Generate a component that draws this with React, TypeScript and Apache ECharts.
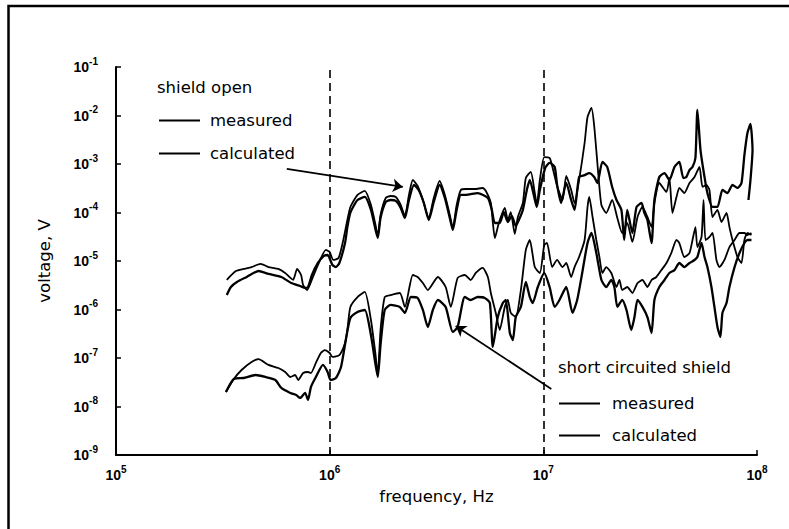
import React, { useEffect, useRef } from "react";
import * as echarts from "echarts";

// [frequency Hz, voltage V]
const openMeasured = [
  [3.30e5,4.1e-6],[3.64e5,6.2e-6],[3.96e5,6.85e-6],[4.31e5,7.5e-6],[4.75e5,8.7e-6],[5.17e5,7.5e-6],[5.75e5,6.85e-6],[6.19e5,5.66e-6],[6.74e5,4.1e-6],[7.04e5,6.85e-6],[7.35e5,5.15e-6],[7.51e5,3.2e-6],[7.84e5,2.52e-6],[8.35e5,4.68e-6],[8.81e5,8.27e-6],[9.60e5,1.69e-5],[1.00e6,1.53e-5],[1.04e6,1.05e-5],[1.10e6,1.15e-5],[1.15e6,2.35e-5],[1.21e6,7.0e-5],[1.25e6,1.3e-4],[1.35e6,2.3e-4],[1.46e6,2.78e-4],[1.56e6,1.43e-4],[1.64e6,5.5e-5],[1.68e6,3.28e-5],[1.73e6,8.9e-5],[1.83e6,1.99e-4],[1.93e6,2.19e-4],[2.04e6,2.09e-4],[2.15e6,1.43e-4],[2.25e6,8.5e-5],[2.35e6,2.3e-4],[2.45e6,4.68e-4],[2.58e6,3.52e-4],[2.73e6,1.81e-4],[2.91e6,7.7e-5],[3.07e6,1.99e-4],[3.27e6,4.46e-4],[3.46e6,2.3e-4],[3.65e6,8.9e-5],[3.77e6,4.8e-5],[3.93e6,1.43e-4],[4.11e6,2.91e-4],[4.33e6,3.05e-4],[4.78e6,3.05e-4],[5.20e6,3.2e-4],[5.38e6,2.78e-4],[5.68e6,1.57e-4],[5.80e6,6.37e-5],[5.93e6,2.98e-5],[6.19e6,6.08e-5],[6.60e6,1.24e-4],[6.82e6,7.0e-5],[7.04e6,1.02e-4],[7.35e6,3.6e-5],[7.60e6,8.08e-5],[8.02e6,1.57e-4],[8.28e6,5.15e-4],[8.73e6,6.85e-4],[9.12e6,2.52e-4],[9.32e6,1.43e-4],[9.63e6,4.68e-4],[1.01e7,1.39e-3],[1.07e7,1.33e-3],[1.10e7,9.1e-4],[1.16e7,3.52e-4],[1.23e7,1.81e-4],[1.28e7,5.66e-4],[1.35e7,2.91e-4],[1.40e7,1.57e-4],[1.47e7,4.68e-4],[1.56e7,2.71e-3],[1.61e7,9.3e-3],[1.68e7,1.43e-2],[1.73e7,6.08e-3],[1.81e7,5.9e-4],[1.87e7,1.43e-4],[1.97e7,9.77e-5],[2.10e7,1.81e-4],[2.22e7,7.7e-5],[2.34e7,3.78e-5],[2.47e7,6.08e-5],[2.61e7,2.47e-5],[2.76e7,8.08e-5],[2.91e7,1.3e-4],[3.07e7,8.08e-5],[3.21e7,5.0e-5],[3.31e7,1.57e-4],[3.49e7,4.06e-4],[3.77e7,2.65e-4],[3.89e7,5.15e-4],[4.02e7,9.77e-5],[4.20e7,2.09e-4],[4.33e7,3.2e-4],[4.57e7,2.52e-4],[4.83e7,4.06e-4],[5.10e7,5.4e-4],[5.38e7,8.7e-4],[5.56e7,3.36e-4],[5.80e7,3.69e-4],[5.99e7,2.91e-4],[6.19e7,8.08e-5],[6.53e7,1.13e-4],[6.82e7,6.37e-5],[7.20e7,9.77e-5],[7.43e7,5.0e-5],[7.68e7,2.71e-5],[8.10e7,1.21e-5],[8.46e7,9.1e-6],[8.73e7,2.71e-5],[9.02e7,3.78e-5],[9.42e7,3.44e-5]
];

const openCalculated = [
  [3.30e5,1.99e-6],[3.45e5,2.91e-6],[3.68e5,3.69e-6],[4.09e5,4.68e-6],[4.65e5,6.22e-6],[5.17e5,5.4e-6],[5.94e5,4.68e-6],[6.61e5,3.52e-6],[7.27e5,3.05e-6],[7.67e5,2.78e-6],[7.92e5,2.91e-6],[8.26e5,5.15e-6],[8.81e5,9.1e-6],[9.40e5,1.27e-5],[9.78e5,1.33e-5],[1.03e6,8.27e-6],[1.07e6,7.5e-6],[1.11e6,9.1e-6],[1.18e6,2.35e-5],[1.21e6,5.0e-5],[1.25e6,1.0e-4],[1.35e6,1.81e-4],[1.46e6,2.09e-4],[1.56e6,1.13e-4],[1.64e6,4.36e-5],[1.68e6,2.98e-5],[1.73e6,7.7e-5],[1.83e6,1.65e-4],[1.93e6,1.81e-4],[2.04e6,1.73e-4],[2.15e6,1.24e-4],[2.25e6,7.7e-5],[2.35e6,1.81e-4],[2.48e6,3.69e-4],[2.61e6,2.91e-4],[2.76e6,1.57e-4],[2.91e6,7.0e-5],[3.07e6,1.65e-4],[3.27e6,3.69e-4],[3.46e6,1.99e-4],[3.65e6,7.7e-5],[3.77e6,4.36e-5],[3.93e6,1.13e-4],[4.11e6,2.3e-4],[4.33e6,2.3e-4],[4.93e6,2.52e-4],[5.50e6,1.99e-4],[5.74e6,1.13e-4],[5.93e6,6.08e-5],[6.25e6,6.08e-5],[6.53e6,1.02e-4],[6.82e6,6.37e-5],[7.12e6,8.5e-5],[7.43e6,5.27e-5],[7.68e6,7.0e-5],[8.02e6,1.13e-4],[8.37e6,2.91e-4],[8.64e6,4.68e-4],[9.02e6,2.3e-4],[9.32e6,1.3e-4],[9.63e6,2.91e-4],[1.02e7,8.27e-4],[1.07e7,1.05e-3],[1.13e7,8.7e-4],[1.16e7,3.69e-4],[1.21e7,1.57e-4],[1.28e7,4.06e-4],[1.35e7,1.81e-4],[1.40e7,1.13e-4],[1.47e7,5.4e-4],[1.56e7,5.9e-4],[1.64e7,6.5e-4],[1.73e7,5.4e-4],[1.79e7,4.06e-4],[1.89e7,1.1e-3],[1.99e7,8.7e-4],[2.10e7,3.36e-4],[2.20e7,1.81e-4],[2.32e7,1.13e-4],[2.39e7,2.71e-5],[2.47e7,1.13e-4],[2.61e7,3.78e-5],[2.73e7,1.3e-4],[2.88e7,1.57e-4],[2.97e7,9.77e-5],[3.07e7,7.0e-5],[3.21e7,2.35e-5],[3.31e7,1.81e-4],[3.49e7,5.4e-4],[3.69e7,6.5e-4],[3.89e7,4.68e-4],[4.11e7,8.7e-4],[4.33e7,1.1e-3],[4.52e7,5.15e-4],[4.67e7,5.4e-4],[4.83e7,7.5e-4],[4.99e7,8.7e-4],[5.15e7,1.33e-3],[5.26e7,1.3e-2],[5.44e7,1.94e-3],[5.68e7,5.4e-4],[5.86e7,2.52e-4],[6.19e7,1.3e-4],[6.53e7,1.3e-4],[6.89e7,2.91e-4],[7.27e7,2.52e-4],[7.68e7,3.69e-4],[8.10e7,3.2e-4],[8.46e7,4.06e-4],[8.73e7,1.53e-3],[9.02e7,4.36e-3],[9.32e7,6.68e-3],[9.53e7,1.94e-3],[9.32e7,4.68e-4],[9.12e7,1.81e-4]
];

const shortMeasured = [
  [3.27e5,1.99e-8],[3.56e5,3.69e-8],[3.87e5,5.66e-8],[4.31e5,8.27e-8],[4.65e5,9.5e-8],[5.17e5,7.2e-8],[5.75e5,6.22e-8],[6.19e5,5.15e-8],[6.54e5,4.06e-8],[6.89e5,4.46e-8],[7.12e5,3.52e-8],[7.51e5,4.9e-8],[7.92e5,5.15e-8],[8.17e5,4.9e-8],[8.62e5,7.9e-8],[9.09e5,1.27e-7],[9.50e5,1.46e-7],[1.00e6,1.27e-7],[1.03e6,1.05e-7],[1.11e6,1.15e-7],[1.18e6,2.04e-7],[1.21e6,3.78e-7],[1.25e6,1.13e-6],[1.35e6,1.81e-6],[1.46e6,2.3e-6],[1.56e6,6.08e-7],[1.64e6,1.15e-7],[1.68e6,4.46e-8],[1.73e6,3.78e-7],[1.81e6,1.81e-6],[1.93e6,1.99e-6],[2.13e6,2.19e-6],[2.25e6,1.13e-6],[2.45e6,5.15e-6],[2.58e6,4.68e-6],[2.73e6,3.52e-6],[2.88e6,2.52e-6],[3.21e6,4.68e-6],[3.49e6,2.91e-6],[3.69e6,1.13e-6],[3.97e6,4.46e-6],[4.29e6,5.15e-6],[4.57e6,4.06e-6],[4.83e6,5.66e-6],[5.20e6,7.2e-6],[5.50e6,4.68e-6],[5.68e6,2.19e-6],[5.99e6,8.5e-7],[6.25e6,3.78e-7],[6.60e6,1.13e-6],[6.82e6,1.57e-6],[7.04e6,8.5e-7],[7.43e6,7.0e-7],[7.85e6,2.52e-6],[8.28e6,1.69e-5],[8.64e6,2.71e-5],[9.12e6,7.5e-6],[9.63e6,5.66e-6],[1.01e7,2.14e-5],[1.04e7,2.35e-5],[1.10e7,7.5e-6],[1.16e7,1.05e-5],[1.23e7,7.5e-6],[1.28e7,9.1e-6],[1.35e7,4.68e-6],[1.40e7,7.5e-6],[1.47e7,1.21e-5],[1.56e7,2.71e-5],[1.61e7,1.3e-4],[1.64e7,2.09e-4],[1.70e7,8.08e-5],[1.77e7,2.71e-5],[1.83e7,1.21e-5],[1.89e7,5.66e-6],[1.97e7,7.5e-6],[2.08e7,5.66e-6],[2.20e7,2.91e-6],[2.27e7,4.06e-6],[2.34e7,2.52e-6],[2.47e7,2.91e-6],[2.61e7,2.19e-6],[2.76e7,3.52e-6],[2.91e7,4.06e-6],[3.07e7,2.91e-6],[3.21e7,4.06e-6],[3.38e7,4.68e-6],[3.57e7,6.5e-6],[3.77e7,9.1e-6],[3.97e7,1.46e-5],[4.20e7,2.71e-5],[4.33e7,2.35e-5],[4.57e7,1.21e-5],[4.83e7,1.46e-5],[4.99e7,2.71e-5],[5.15e7,5.0e-5],[5.26e7,1.94e-5],[5.50e7,3.13e-5],[5.62e7,1.81e-4],[5.74e7,2.71e-5],[5.99e7,3.13e-5],[6.19e7,3.78e-5],[6.46e7,1.05e-5],[6.67e7,7.5e-6],[7.04e7,1.05e-5],[7.43e7,1.94e-5],[7.85e7,2.71e-5],[8.28e7,3.78e-5],[8.73e7,3.78e-5],[9.02e7,3.44e-5],[9.42e7,3.78e-5]
];

const shortCalculated = [
  [3.27e5,1.99e-8],[3.56e5,3.69e-8],[3.96e5,3.87e-8],[4.50e5,4.46e-8],[5.00e5,4.06e-8],[5.57e5,3.52e-8],[5.94e5,2.41e-8],[6.54e5,1.9e-8],[6.97e5,1.73e-8],[7.27e5,1.5e-8],[7.67e5,1.9e-8],[7.92e5,1.36e-8],[8.17e5,2.52e-8],[8.62e5,4.06e-8],[9.30e5,7.2e-8],[9.78e5,5.15e-8],[1.01e6,3.52e-8],[1.07e6,3.87e-8],[1.13e6,6.5e-8],[1.19e6,2.35e-7],[1.25e6,6.68e-7],[1.35e6,8.88e-7],[1.46e6,9.77e-7],[1.56e6,2.98e-7],[1.64e6,7.2e-8],[1.68e6,4.06e-8],[1.73e6,1.85e-7],[1.81e6,9.77e-7],[1.93e6,1.24e-6],[2.13e6,1.13e-6],[2.25e6,8.5e-7],[2.40e6,1.81e-6],[2.58e6,1.73e-6],[2.73e6,9.77e-7],[2.88e6,4.36e-7],[3.04e6,9.77e-7],[3.21e6,1.57e-6],[3.49e6,1.13e-6],[3.77e6,3.44e-7],[3.97e6,4.36e-7],[4.29e6,1.81e-6],[4.57e6,1.57e-6],[4.93e6,1.81e-6],[5.32e6,1.73e-6],[5.62e6,1.36e-6],[5.80e6,1.69e-7],[6.12e6,7.0e-7],[6.46e6,1.36e-6],[6.67e6,1.57e-6],[6.97e6,3.28e-7],[7.20e6,2.35e-7],[7.43e6,7.0e-7],[7.85e6,1.13e-6],[8.28e6,3.69e-6],[8.64e6,1.81e-6],[8.92e6,1.36e-6],[9.42e6,2.91e-6],[1.01e7,5.66e-6],[1.07e7,2.91e-6],[1.13e7,1.13e-6],[1.19e7,1.57e-6],[1.28e7,2.91e-6],[1.37e7,8.5e-7],[1.44e7,1.57e-6],[1.52e7,5.66e-6],[1.61e7,2.35e-5],[1.68e7,3.78e-5],[1.77e7,1.46e-5],[1.87e7,4.06e-6],[1.97e7,2.91e-6],[2.08e7,4.06e-6],[2.15e7,2.91e-6],[2.22e7,1.13e-6],[2.34e7,1.57e-6],[2.45e7,9.77e-7],[2.58e7,3.78e-7],[2.67e7,7.0e-7],[2.76e7,1.57e-6],[2.91e7,1.13e-6],[3.07e7,7.0e-7],[3.21e7,3.28e-7],[3.31e7,1.57e-6],[3.49e7,2.91e-6],[3.69e7,4.06e-6],[3.89e7,5.66e-6],[4.11e7,6.5e-6],[4.33e7,9.1e-6],[4.57e7,7.5e-6],[4.83e7,9.1e-6],[5.10e7,1.05e-5],[5.26e7,1.21e-5],[5.50e7,2.35e-5],[5.68e7,1.21e-5],[5.86e7,7.5e-6],[6.12e7,2.91e-6],[6.32e7,1.13e-6],[6.53e7,4.36e-7],[6.74e7,2.71e-7],[6.89e7,8.5e-7],[7.20e7,1.36e-6],[7.43e7,2.91e-6],[7.85e7,7.5e-6],[8.28e7,1.46e-5],[8.73e7,2.35e-5],[9.02e7,2.71e-5],[9.42e7,2.71e-5]
];

const dashedFrequencies = [1e6, 1e7];
// arrows: [from, to] in data coordinates
const arrowOpen = [[6.3e5, 7.9e-4], [2.2e6, 3.36e-4]];
const arrowShort = [[1.09e7, 2.3e-8], [3.89e6, 4.57e-7]];

const seriesNames = ["measured", "calculated"];
const groupTitles = ["shield open", "short circuited shield"];

const TICK_FONT = "'Liberation Sans', Arial, sans-serif";
const TEXT_FONT = "'DejaVu Sans', sans-serif";
const TEXT_SIZE = 16.5;

const supLabel = (v: number) => {
  const e = Math.round(Math.log10(v));
  return `{b|10}{s|${e}}`;
};
const rich = {
  b: { fontSize: 14, fontFamily: TICK_FONT, fontWeight: "bold", color: "#000", lineHeight: 22 },
  s: { fontSize: 10, fontFamily: TICK_FONT, fontWeight: "bold", color: "#000", lineHeight: 12, verticalAlign: "top" },
};

export default function App() {
  const ref = useRef<HTMLDivElement>(null);
  useEffect(() => {
    const chart = echarts.init(ref.current!, null, { renderer: "svg" });
    const lineBase = (name: string, data: number[][], width: number) => ({
      name,
      type: "line",
      data,
      symbol: "none",
      silent: true,
      smooth: 0.2,
      lineStyle: { color: "#000", width },
      itemStyle: { color: "#000" },
      emphasis: { disabled: true },
    });
    const textStyle = (padLeft: number) => ({
      fontFamily: TEXT_FONT,
      fontSize: TEXT_SIZE,
      color: "#000",
      lineHeight: 14,
      padding: [0, 0, 0, padLeft],
    });
    const legendBase = {
      orient: "vertical",
      data: seriesNames,
      itemWidth: 41,
      itemHeight: 14,
      padding: 0,
      selectedMode: false,
      itemStyle: { color: "rgba(0,0,0,0)", borderWidth: 0 },
      lineStyle: { color: "#000" },
    };
    const nameStyle = { fontFamily: TEXT_FONT, fontSize: TEXT_SIZE, color: "#000", lineHeight: 20 };
    chart.setOption({
      animation: false,
      backgroundColor: "#fff",
      grid: { left: 116, top: 67, width: 641, height: 388 },
      xAxis: {
        type: "log",
        logBase: 10,
        min: 1e5,
        max: 1e8,
        splitNumber: 3,
        name: "frequency, Hz",
        nameLocation: "middle",
        nameGap: 31,
        nameTextStyle: nameStyle,
        axisLine: { lineStyle: { color: "#000", width: 2 } },
        axisTick: { inside: true, length: 5, lineStyle: { color: "#000", width: 1.5 } },
        axisLabel: { formatter: supLabel, rich, margin: 9 },
        splitLine: { show: false },
      },
      yAxis: {
        type: "log",
        logBase: 10,
        min: 1e-9,
        max: 1e-1,
        splitNumber: 8,
        name: "voltage, V",
        nameLocation: "middle",
        nameRotate: 90,
        nameGap: 62,
        nameTextStyle: nameStyle,
        axisLine: { lineStyle: { color: "#000", width: 2 } },
        axisTick: { inside: true, length: 5, lineStyle: { color: "#000", width: 1.5 } },
        axisLabel: { formatter: supLabel, rich, margin: 18 },
        splitLine: { show: false },
      },
      legend: [
        { ...legendBase, left: 158, top: 112, itemGap: 16, textStyle: textStyle(5) },
        { ...legendBase, left: 558, top: 395, itemGap: 15, textStyle: textStyle(7) },
      ],
      series: [
        {
          ...lineBase(seriesNames[0], openMeasured, 1.8),
          markLine: {
            silent: true,
            symbol: ["none", "none"],
            label: { show: false },
            emphasis: { disabled: true },
            lineStyle: { color: "#000", type: [8, 5], width: 1.6 },
            data: dashedFrequencies.map((f) => ({ xAxis: f })),
          },
        },
        {
          ...lineBase(seriesNames[1], openCalculated, 2.3),
          markLine: {
            silent: true,
            symbol: ["none", "arrow"],
            symbolSize: 10,
            label: { show: false },
            emphasis: { disabled: true },
            lineStyle: { color: "#000", type: "solid", width: 1.8 },
            data: [
              [{ coord: arrowOpen[0] }, { coord: arrowOpen[1] }],
              [{ coord: arrowShort[0] }, { coord: arrowShort[1] }],
            ],
          },
        },
        lineBase(seriesNames[0], shortMeasured, 1.8),
        lineBase(seriesNames[1], shortCalculated, 2.3),
      ],
      graphic: [
        {
          type: "rect",
          silent: true,
          shape: { x: 8.5, y: 6, width: 800, height: 600 },
          style: { fill: "none", stroke: "#000", lineWidth: 2.5 },
        },
        {
          type: "text",
          left: 157,
          top: 79,
          style: { text: groupTitles[0], fontFamily: TEXT_FONT, fontSize: TEXT_SIZE, fill: "#000" },
        },
        {
          type: "text",
          left: 558,
          top: 359,
          style: { text: groupTitles[1], fontFamily: TEXT_FONT, fontSize: TEXT_SIZE, fill: "#000" },
        },
      ],
    });
    return () => chart.dispose();
  }, []);
  return (
    <div
      ref={ref}
      style={{ position: "fixed", left: 0, top: 0, width: 789, height: 529, background: "#fff" }}
    />
  );
}
